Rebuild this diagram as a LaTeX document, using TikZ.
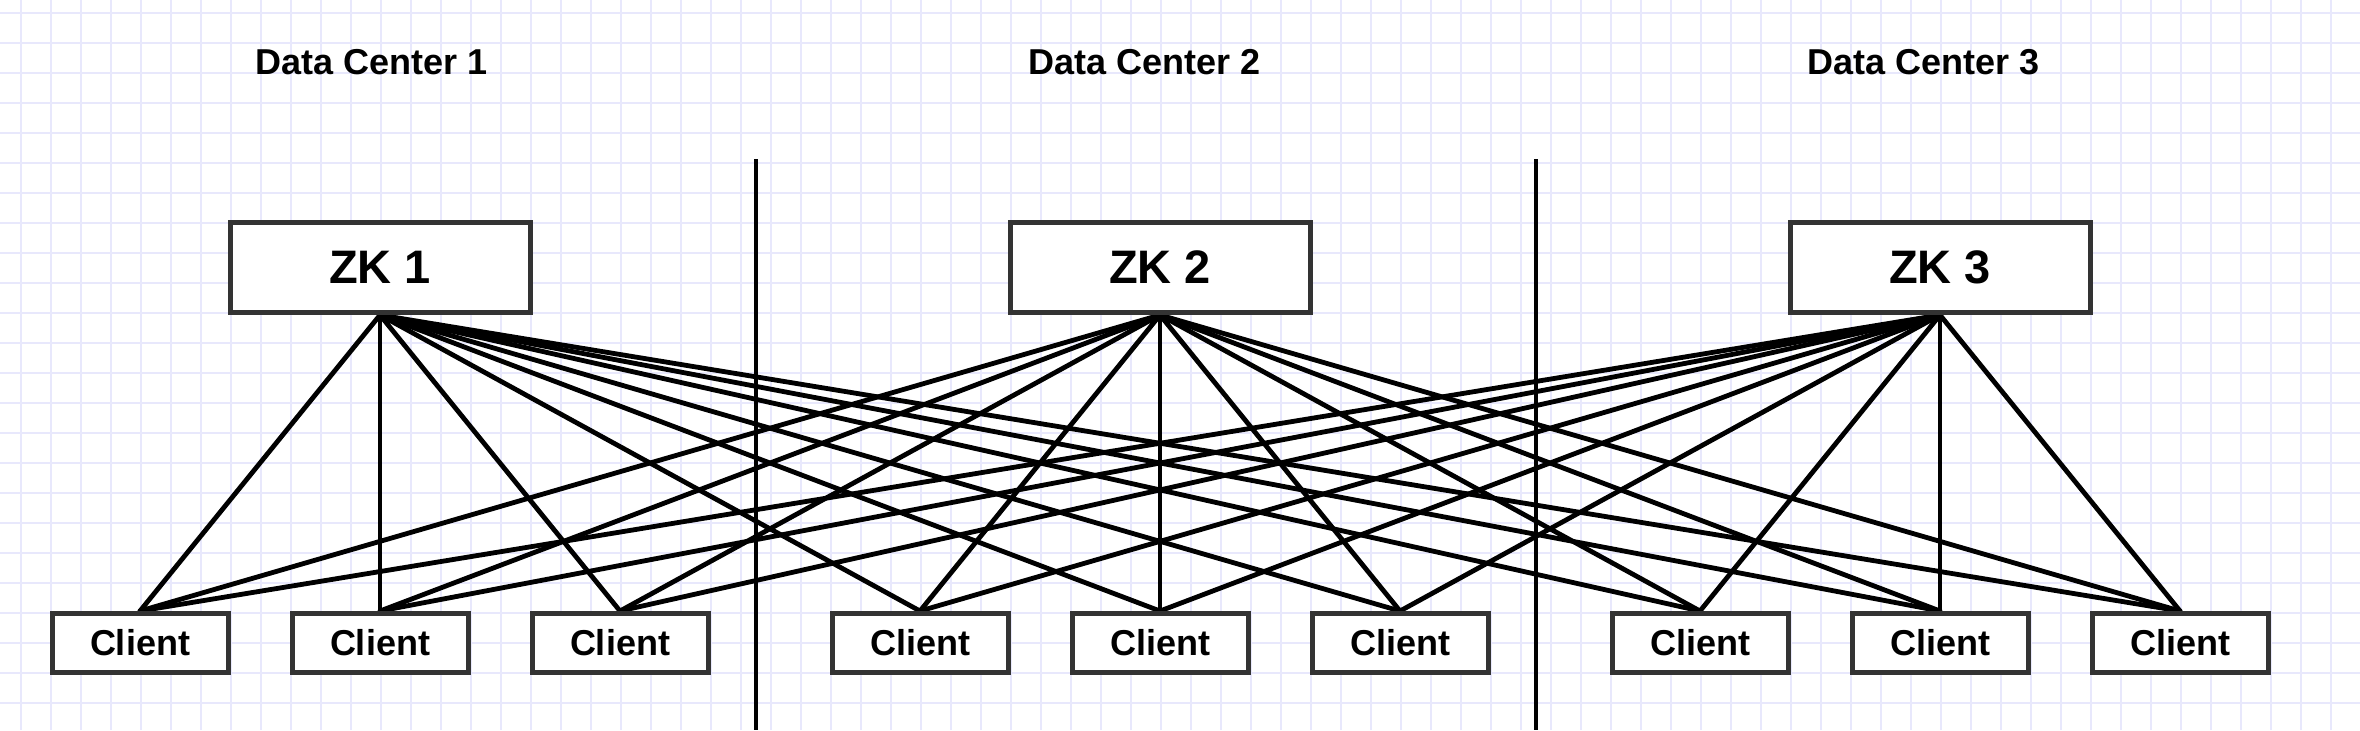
\documentclass[tikz,border=0pt]{standalone}
\usepackage{fontspec}
\setmainfont{Liberation Sans}
\usetikzlibrary{backgrounds}
\definecolor{gridc}{RGB}{232,232,252}
\definecolor{boxc}{RGB}{51,51,51}
\tikzset{
  zkbox/.style={draw=boxc, fill=white, line width=2.5pt, minimum width=150pt, minimum height=45pt, inner sep=0pt, font=\fontsize{23.5pt}{27pt}\selectfont\bfseries},
  clbox/.style={draw=boxc, fill=white, line width=2.5pt, minimum width=88pt, minimum height=29.5pt, inner sep=0pt, font=\fontsize{18pt}{21pt}\selectfont\bfseries},
  dctitle/.style={inner sep=0pt, font=\fontsize{18pt}{21pt}\selectfont\bfseries},
  link/.style={line width=2.4pt, black, line cap=round},
  divider/.style={line width=2.3pt, black},
}
\begin{document}
\begin{tikzpicture}[x=0.5pt, y=-0.5pt]
\useasboundingbox (0,0) rectangle (2360,730);
% titles
\node[dctitle] (t1) at (372,62) {Data Center 1};
\node[dctitle] (t2) at (1145,62) {Data Center 2};
\node[dctitle] (t3) at (1924,62) {Data Center 3};
% ZK nodes
\node[zkbox] (zk1) at (380,267.5) {ZK 1};
\node[zkbox] (zk2) at (1160,267.5) {ZK 2};
\node[zkbox] (zk3) at (1940,267.5) {ZK 3};
% clients
\foreach \n/\x in {1/140,2/380,3/620,4/920,5/1160,6/1400,7/1700,8/1940,9/2180}
  \node[clbox] (c\n) at (\x,643) {Client};
% dividers
\coordinate (d1t) at (756,159);
\coordinate (d1b) at (756,730);
\coordinate (d2t) at (1536,159);
\coordinate (d2b) at (1536,730);
\draw[divider] (d1t) -- (d1b);
\draw[divider] (d2t) -- (d2b);
\begin{scope}[on background layer]
  \foreach \gx in {21,51,...,2360}
    \draw[gridc, line width=0.8pt] (\gx,0) -- (\gx,730);
  \foreach \gy in {12.7,42.7,...,730}
    \draw[gridc, line width=0.8pt] (0,\gy) -- (2360,\gy);
  \foreach \z in {1,2,3}
    \foreach \n in {1,...,9}
      \draw[link] (zk\z.south) -- (c\n.north);
\end{scope}
\end{tikzpicture}
\end{document}
